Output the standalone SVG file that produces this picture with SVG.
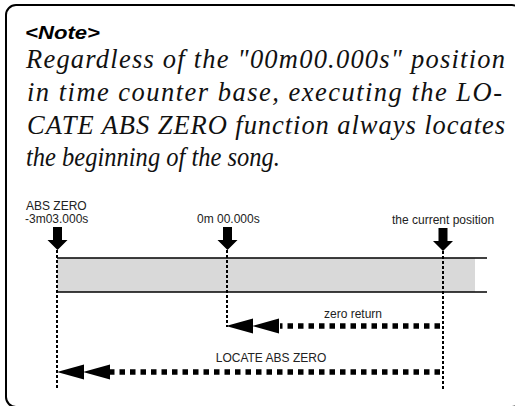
<svg xmlns="http://www.w3.org/2000/svg" width="515" height="406" viewBox="0 0 515 406">
<defs>
<style>
.lbl{font-family:'Liberation Sans',Arial,sans-serif;font-size:12px;fill:#222}
.note{font-family:'Liberation Sans',Arial,sans-serif;font-style:italic;font-weight:bold;font-size:19px;fill:#000}
.vdot{stroke:#000;stroke-width:2;stroke-dasharray:3 2;fill:none}
.hdot{stroke:#000;stroke-width:5.5;stroke-dasharray:5.5 5;fill:none}
.bar{stroke:#000;stroke-width:1.5}
</style>
<path id="down" d="M-4.5,-23 H4.5 V-10 H10 L0,0 L-10,-10 H-4.5 Z" fill="#000"/>
</defs>
<rect x="6" y="5" width="516" height="402" rx="10" ry="10" fill="#fff" stroke="#000" stroke-width="2"/>
<g id="note-text">
<text class="note" x="25" y="39" textLength="75" lengthAdjust="spacingAndGlyphs">&lt;Note&gt;</text>
<g font-family="Liberation Serif, serif" font-style="italic" font-size="26.5" fill="#111">
<text x="26" y="68" textLength="479">Regardless of the "00m00.000s" position</text>
<text x="27" y="101" textLength="475">in time counter base, executing the LO-</text>
<text x="27" y="134" textLength="478">CATE ABS ZERO function always locates</text>
<text x="26" y="166" textLength="254" lengthAdjust="spacingAndGlyphs">the beginning of the song.</text>
</g>
</g>
<g id="timeline">
<rect x="57" y="258" width="418" height="34" fill="#d9d9d9"/>
<line class="bar" x1="57" y1="258" x2="487" y2="258"/>
<line class="bar" x1="57" y1="292" x2="487" y2="292"/>
</g>
<g id="abs-zero">
<text class="lbl" x="26" y="210">ABS ZERO</text>
<text class="lbl" x="25" y="223">-3m03.000s</text>
<use href="#down" x="57.5" y="250"/>
</g>
<g id="zero-point">
<text class="lbl" x="197" y="223">0m 00.000s</text>
<use href="#down" x="227.5" y="250"/>
</g>
<g id="current-position">
<text class="lbl" x="392" y="224">the current position</text>
<use href="#down" x="443" y="251"/>
</g>
<g id="connectors">
<line class="vdot" x1="57" y1="250" x2="57" y2="389"/>
<line class="vdot" x1="227" y1="250" x2="227" y2="327"/>
<line class="vdot" x1="443" y1="251" x2="443" y2="389"/>
<g id="zero-return">
<line class="hdot" x1="440" y1="326" x2="280" y2="326"/>
<polygon points="226,326 253,318.5 253,333.5"/>
<polygon points="252,326 279,318.5 279,333.5"/>
<text class="lbl" x="353" y="318" text-anchor="middle">zero return</text>
</g>
<g id="locate-abs-zero">
<line class="hdot" x1="440" y1="372" x2="108" y2="372"/>
<polygon points="57,372 84,364.5 84,379.5"/>
<polygon points="83,372 110,364.5 110,379.5"/>
<text class="lbl" x="271" y="362" text-anchor="middle">LOCATE ABS ZERO</text>
</g>
</g>
</svg>
